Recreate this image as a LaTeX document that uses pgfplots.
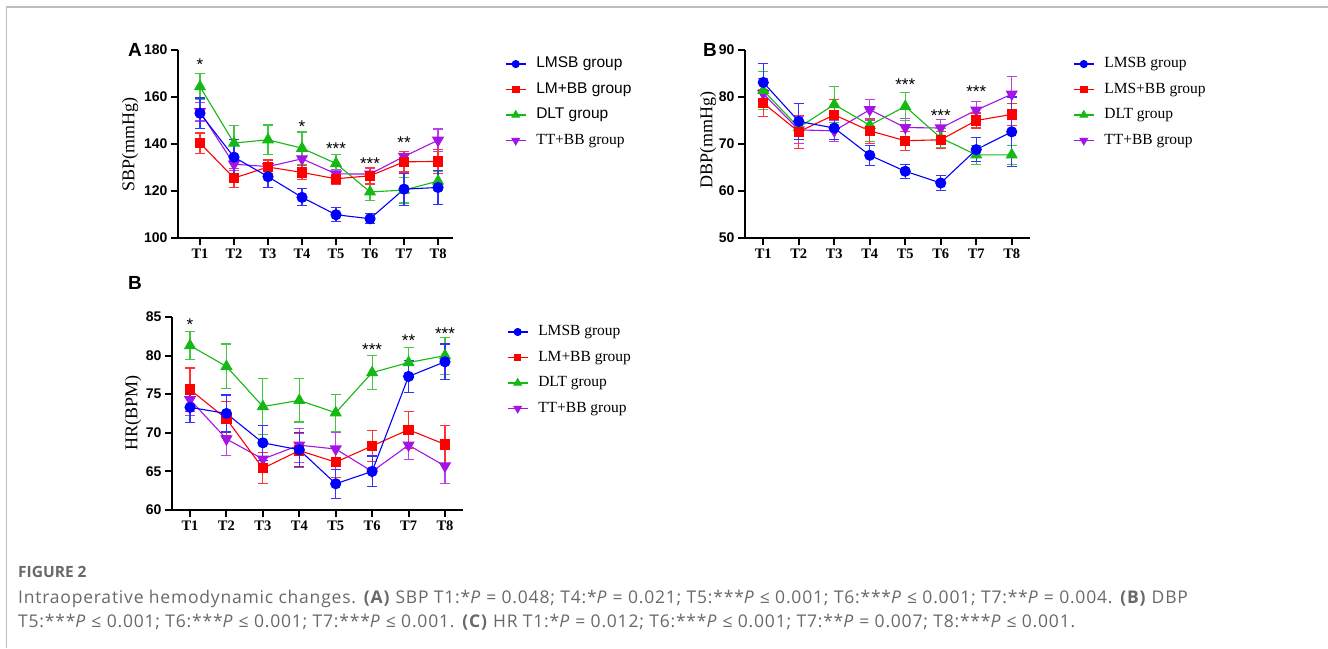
\documentclass[border=0pt]{standalone}
\usepackage{fontspec}
\setmainfont{Liberation Serif}
\setsansfont{Liberation Sans}
\newfontfamily\capfont[LetterSpace=4.5]{Open Sans}
\newfontfamily\figfont{Open Sans}
\usepackage{pgfplots}
\pgfplotsset{compat=1.18}
\usepackage{pgfplotstable}

\definecolor{cblue}{RGB}{0,0,255}
\definecolor{cred}{RGB}{255,0,0}
\definecolor{cgreen}{RGB}{20,185,20}
\definecolor{cpurp}{RGB}{165,20,230}
\definecolor{capgray}{RGB}{105,105,105}
\definecolor{framegray}{RGB}{190,190,190}

% ---------- Panel A: SBP ----------
\pgfplotstableread{
x y e
1 153.1 6.5
2 134.4 7.5
3 126.1 4.7
4 117.3 3.6
5 109.9 2.9
6 108.2 2.2
7 120.8 6.8
8 121.5 7.4
}\Ablue
\pgfplotstableread{
x y e
1 140.4 4.3
2 125.5 4.0
3 130.2 3.0
4 127.9 3.0
5 125.2 2.5
6 126.5 3.5
7 132.4 4.3
8 132.6 5.0
}\Ared
\pgfplotstableread{
x y e
1 164.4 5.6
2 140.4 7.5
3 141.8 6.3
4 138.2 6.9
5 131.7 3.7
6 119.6 3.5
7 120.4 5.5
8 124.2 4.0
}\Agreen
\pgfplotstableread{
x y e
1 153.8 4.0
2 131.4 2.5
3 130.4 3.0
4 133.7 3.0
5 127.3 1.8
6 127.2 2.5
7 134.7 2.2
8 141.6 4.8
}\Apurp

% ---------- Panel B: DBP ----------
\pgfplotstableread{
x y e
1 83.1 4.1
2 74.8 3.9
3 73.4 2.4
4 67.6 2.1
5 64.2 1.5
6 61.7 1.6
7 68.8 2.6
8 72.6 7.4
}\Bblue
\pgfplotstableread{
x y e
1 78.7 2.8
2 72.6 3.5
3 76.2 3.2
4 72.8 2.7
5 70.7 2.0
6 70.9 1.8
7 75.0 1.6
8 76.3 2.4
}\Bred
\pgfplotstableread{
x y e
1 81.4 4.0
2 73.5 2.6
3 78.4 3.9
4 74.0 3.4
5 78.0 3.0
6 71.3 2.0
7 67.7 2.0
8 67.7 2.0
}\Bgreen
\pgfplotstableread{
x y e
1 80.7 3.3
2 73.0 2.8
3 72.8 2.3
4 77.3 2.2
5 73.5 2.0
6 73.4 1.8
7 77.2 1.8
8 80.6 3.7
}\Bpurp

% ---------- Panel C: HR ----------
\pgfplotstableread{
x y e
1 73.3 2.0
2 72.5 2.4
3 68.7 2.3
4 67.8 2.2
5 63.4 1.9
6 65.0 2.0
7 77.3 2.1
8 79.2 2.3
}\Cblue
\pgfplotstableread{
x y e
1 75.6 2.8
2 71.8 2.2
3 65.4 2.0
4 67.7 2.2
5 66.2 2.0
6 68.3 2.0
7 70.4 2.4
8 68.5 2.5
}\Cred
\pgfplotstableread{
x y e
1 81.3 1.8
2 78.6 2.9
3 73.4 3.6
4 74.2 2.8
5 72.6 2.4
6 77.8 2.2
7 79.1 2.0
8 80.0 2.4
}\Cgreen
\pgfplotstableread{
x y e
1 74.3 2.0
2 69.2 2.1
3 66.6 0.8
4 68.4 2.2
5 67.9 2.2
6 65.0 2.0
7 68.4 1.8
8 65.7 2.3
}\Cpurp

\pgfplotsset{
  gp/.style={
    scale only axis,
    axis lines=left,
    axis line style={-, line width=2.4pt},
    tick style={line width=2pt, black},
    tick align=outside,
    xtick pos=left, ytick pos=left,
    major tick length=7pt,
    xtick={1,...,8},
    xticklabels={T1,T2,T3,T4,T5,T6,T7,T8},
    x tick label style={font=\fontsize{14.5}{14.5}\selectfont\bfseries\rmfamily},
    y tick label style={font=\fontsize{14}{14}\selectfont\bfseries\sffamily},
    /pgf/number format/assume math mode=true,
    ylabel style={font=\fontsize{18}{18}\selectfont\rmfamily, anchor=center},
    clip=false,
    legend cell align=left,
    reverse legend,
    legend image code/.code={\draw[mark repeat=2, mark phase=2, every mark/.append style={scale=0.7}] plot coordinates {(0pt,0pt) (10pt,0pt) (20pt,0pt)};},
    legend style={draw=none, fill=none, anchor=north west, inner sep=0pt,
      row sep=11pt, column sep=10pt,
      font=\fontsize{15.5}{16}\selectfont,
      nodes={inner sep=0pt, text height=11pt, text depth=3.5pt}},
  },
  ser/.style={#1, line width=1.1pt,
    error bars/y dir=both, error bars/y explicit,
    error bars/error bar style={#1!80, line width=1.1pt},
    error bars/error mark options={rotate=90, #1!80, mark size=5pt, line width=1.1pt}},
  sblue/.style={ser=cblue, mark=*, mark size=5pt, mark options={solid, fill=cblue, draw=cblue}},
  sred/.style={ser=cred, mark=square*, mark size=4.6pt, mark options={solid, fill=cred, draw=cred}},
  sgreen/.style={ser=cgreen, mark=triangle*, mark size=6pt, mark options={solid, fill=cgreen, draw=cgreen}},
  spurp/.style={ser=cpurp, mark=triangle*, mark size=6pt, mark options={solid, rotate=180, fill=cpurp, draw=cpurp}},
}
\newcommand{\stars}[3]{\node[font=\fontsize{17}{17}\selectfont\sffamily, anchor=base, yshift=-9.5pt] at (axis cs:#1,#2) {#3};}

\begin{document}
\begin{tikzpicture}
\useasboundingbox (0pt,0pt) rectangle (1328pt,-648pt);
\fill[white] (0pt,0pt) rectangle (1328pt,-648pt);
\draw[framegray, line width=1.5pt] (6.5pt,-648pt) -- (6.5pt,-7pt) -- (1328pt,-7pt);

% ===== Panel A =====
\begin{axis}[gp, at={(178pt,-238pt)}, anchor=south west,
  width=275pt, height=188pt,
  xmin=0.353, xmax=8.44, ymin=100, ymax=180, ytick={100,120,...,180},
  ylabel={SBP(mmHg)}, ylabel style={at={(axis description cs:-0.1745,0.495)}},
  legend style={at={(1.189,0.965)}},
]
\addplot[spurp] table[x=x,y=y,y error=e]{\Apurp};
\addplot[sgreen] table[x=x,y=y,y error=e]{\Agreen};
\addplot[sred] table[x=x,y=y,y error=e]{\Ared};
\addplot[sblue] table[x=x,y=y,y error=e]{\Ablue};
\legend{{TT+BB group},{\sffamily DLT group},{\sffamily LM+BB group},{\sffamily LMSB group}}
\stars{1}{175.5}{*}
\stars{4}{149}{*}
\stars{5}{139.6}{***}
\stars{6}{133.3}{***}
\stars{7}{142.2}{**}
\end{axis}

% ===== Panel B =====
\begin{axis}[gp, at={(745pt,-238pt)}, anchor=south west,
  width=285pt, height=188pt,
  xmin=0.485, xmax=8.515, ymin=50, ymax=90, ytick={50,60,...,90},
  ylabel={DBP(mmHg)}, ylabel style={at={(axis description cs:-0.13,0.52)}},
  legend style={at={(1.151,0.965)}},
]
\addplot[spurp] table[x=x,y=y,y error=e]{\Bpurp};
\addplot[sgreen] table[x=x,y=y,y error=e]{\Bgreen};
\addplot[sred] table[x=x,y=y,y error=e]{\Bred};
\addplot[sblue] table[x=x,y=y,y error=e]{\Bblue};
\legend{{TT+BB group},{DLT group},{LMS+BB group},{LMSB group}}
\stars{5}{83.3}{***}
\stars{6}{76.9}{***}
\stars{7}{82.0}{***}
\end{axis}

% ===== Panel C =====
\begin{axis}[gp, at={(172pt,-510pt)}, anchor=south west,
  width=291pt, height=193pt,
  xmin=0.505, xmax=8.495, ymin=60, ymax=85, ytick={60,65,...,85},
  ylabel={HR(BPM)}, ylabel style={at={(axis description cs:-0.134,0.503)}},
  legend style={at={(1.151,0.961)}},
]
\addplot[spurp] table[x=x,y=y,y error=e]{\Cpurp};
\addplot[sgreen] table[x=x,y=y,y error=e]{\Cgreen};
\addplot[sred] table[x=x,y=y,y error=e]{\Cred};
\addplot[sblue] table[x=x,y=y,y error=e]{\Cblue};
\legend{{TT+BB group},{DLT group},{LM+BB group},{LMSB group}}
\stars{1}{84.5}{*}
\stars{6}{81.2}{***}
\stars{7}{82.4}{**}
\stars{8}{83.3}{***}
\end{axis}

% panel letters
\node[font=\fontsize{19}{19}\selectfont\bfseries\sffamily] at (135pt,-50pt) {A};
\node[font=\fontsize{19}{19}\selectfont\bfseries\sffamily] at (710pt,-50pt) {B};
\node[font=\fontsize{19}{19}\selectfont\bfseries\sffamily] at (135pt,-283pt) {B};

% caption
\node[anchor=base west, inner sep=0pt, font=\figfont\fontsize{15.5}{15.5}\selectfont\bfseries, text=capgray] at (18pt,-577pt) {FIGURE 2};
\node[anchor=base west, inner sep=0pt, font=\capfont\fontsize{17.5}{17.5}\selectfont, text=capgray] at (18pt,-603pt) {Intraoperative hemodynamic changes. \textbf{(A)} SBP T1:*\textit{P} = 0.048; T4:*\textit{P} = 0.021; T5:***\textit{P} ≤ 0.001; T6:***\textit{P} ≤ 0.001; T7:**\textit{P} = 0.004. \textbf{(B)} DBP};
\node[anchor=base west, inner sep=0pt, font=\capfont\fontsize{17.5}{17.5}\selectfont, text=capgray] at (18pt,-627pt) {T5:***\textit{P} ≤ 0.001; T6:***\textit{P} ≤ 0.001; T7:***\textit{P} ≤ 0.001. \textbf{(C)} HR T1:*\textit{P} = 0.012; T6:***\textit{P} ≤ 0.001; T7:**\textit{P} = 0.007; T8:***\textit{P} ≤ 0.001.};
\end{tikzpicture}
\end{document}
